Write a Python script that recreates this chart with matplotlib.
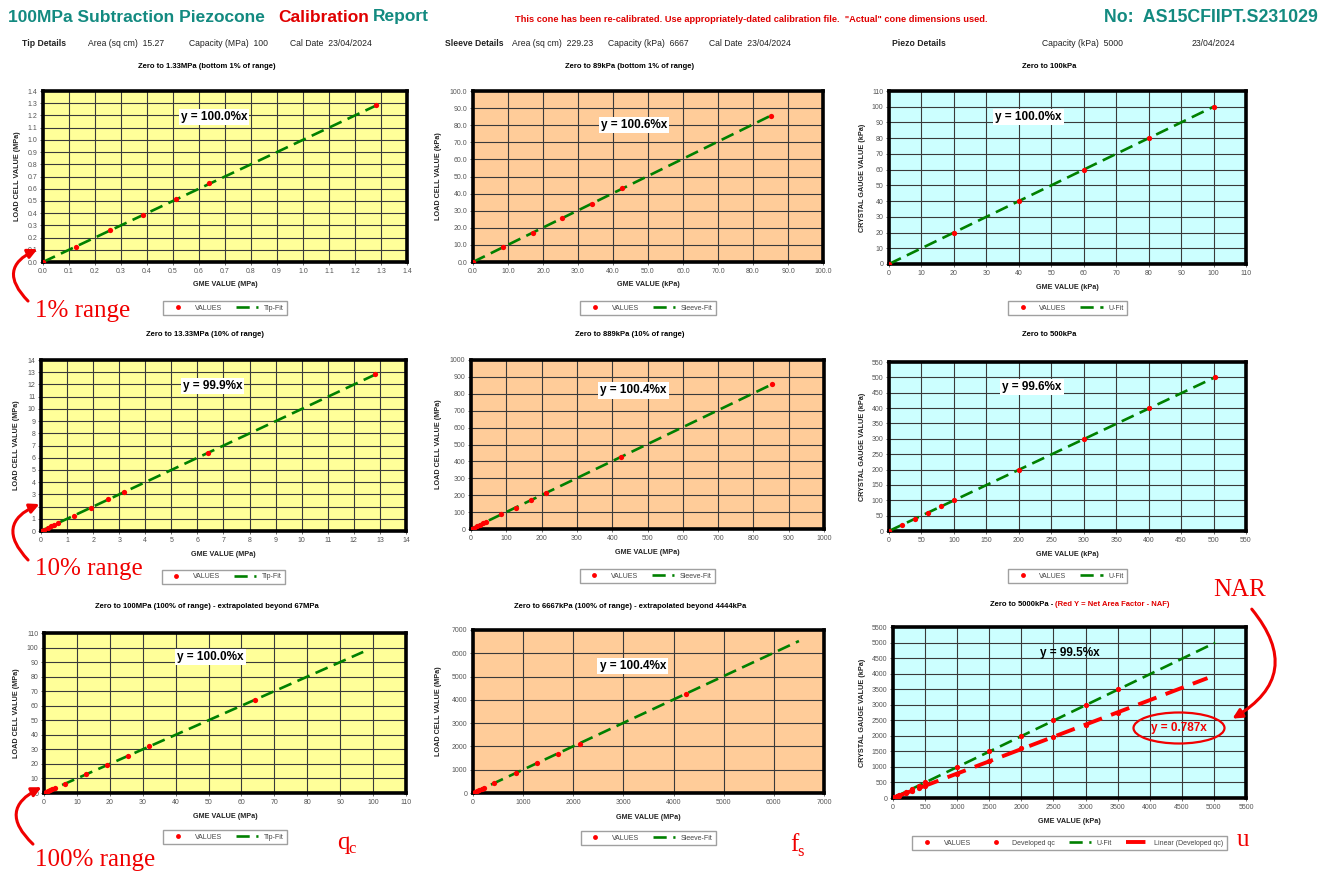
import numpy as np
import matplotlib
matplotlib.use("Agg")
import matplotlib.pyplot as plt
from matplotlib.patches import FancyArrowPatch, Ellipse
from matplotlib.lines import Line2D

plt.rcParams["font.family"] = ["Liberation Sans", "DejaVu Sans"]

W, H = 1327, 872

# ----------------------------
# Data
# ----------------------------
tip1_x = [0, 0.128, 0.256, 0.384, 0.512, 0.640, 1.280]
tip1_y = [0, 0.125, 0.262, 0.385, 0.512, 0.645, 1.282]

slv1_x = [0, 8.5, 17.0, 25.5, 34.0, 42.5, 85.0]
slv1_y = [0, 8.5, 16.9, 25.6, 33.9, 43.0, 85.5]

pz1_x = [0, 20, 40, 60, 80, 100]
pz1_y = [0, 20, 40, 60, 80, 100]

tip10_x = [0, 0.13, 0.26, 0.38, 0.51, 0.64, 1.28, 1.92, 2.56, 3.20, 6.40, 12.80]
tip10_y = [0, 0.12, 0.25, 0.38, 0.50, 0.63, 1.25, 1.88, 2.58, 3.22, 6.42, 12.82]

slv10_x = [0, 8.5, 17, 25.5, 34, 42.5, 85, 128, 170, 213, 425, 853]
slv10_y = [0, 8.6, 17, 25.6, 34, 42.8, 86, 127, 171, 212, 427, 856]

pz5_x = [0, 20, 40, 60, 80, 100, 200, 300, 400, 502]
pz5_y = [0, 20, 40, 60, 80, 100, 200, 300, 400, 500]

tip100_x = [0, 0.64, 1.28, 1.92, 2.56, 3.2, 6.4, 12.8, 19.2, 25.6, 32.0, 64.0]
tip100_y = [0, 0.6, 1.25, 1.9, 2.55, 3.2, 6.4, 12.8, 19.2, 25.6, 32.0, 64.2]

slv100_x = [0, 42.5, 85, 128, 170, 213, 425, 853, 1280, 1700, 2130, 4250]
slv100_y = [0, 43, 86, 128, 171, 213, 427, 850, 1275, 1690, 2120, 4250]

pz50_x = [0, 20, 40, 60, 80, 100, 200, 300, 400, 500, 1000, 1500, 2000, 2500, 3000, 3500]
pz50_y = [0, 20, 40, 60, 80, 100, 200, 300, 400, 500, 1000, 1500, 2000, 2500, 3000, 3500]
pz50_dev = [0, 16, 31, 47, 63, 79, 160, 230, 310, 390, 770, 1190, 1610, 1950, 2340, 2730]

fit_slopes = [1.000, 1.006, 1.000, 0.999, 1.004, 0.996, 1.000, 1.004, 0.995]
fit_xmax = [1.28, 85, 100, 12.8, 853, 502, 97, 6500, 5020]
eq_labels = ["y = 100.0%x", "y = 100.6%x", "y = 100.0%x",
             "y = 99.9%x", "y = 100.4%x", "y = 99.6%x",
             "y = 100.0%x", "y = 100.4%x", "y = 99.5%x"]
naf_slope = 0.787
naf_xmax = 4900

axis_max = [1.4, 100, 110, 14, 1000, 550, 110, 7000, 5500]
axis_step = [0.1, 10, 10, 1, 100, 50, 10, 1000, 500]
tick_fmt = ["%.1f", "%.1f", "%d", "%d", "%d", "%d", "%d", "%d", "%d"]

titles = ["Zero to 1.33MPa (bottom 1% of range)",
          "Zero to 89kPa (bottom 1% of range)",
          "Zero to 100kPa",
          "Zero to 13.33MPa (10% of range)",
          "Zero to 889kPa (10% of range)",
          "Zero to 500kPa",
          "Zero to 100MPa (100% of range) - extrapolated beyond 67MPa",
          "Zero to 6667kPa (100% of range) - extrapolated beyond 4444kPa",
          None]
xlabels = ["GME VALUE (MPa)", "GME VALUE (kPa)", "GME VALUE (kPa)",
           "GME VALUE (MPa)", "GME VALUE (MPa)", "GME VALUE (kPa)",
           "GME VALUE (MPa)", "GME VALUE (MPa)", "GME VALUE (kPa)"]
ylabels = ["LOAD CELL VALUE (MPa)", "LOAD CELL VALUE (kPa)", "CRYSTAL GAUGE VALUE (kPa)",
           "LOAD CELL VALUE (MPa)", "LOAD CELL VALUE (MPa)", "CRYSTAL GAUGE VALUE (kPa)",
           "LOAD CELL VALUE (MPa)", "LOAD CELL VALUE (MPa)", "CRYSTAL GAUGE VALUE (kPa)"]
fit_names = ["Tip-Fit", "Sleeve-Fit", "U-Fit"] * 3

data_x = [tip1_x, slv1_x, pz1_x, tip10_x, slv10_x, pz5_x, tip100_x, slv100_x, pz50_x]
data_y = [tip1_y, slv1_y, pz1_y, tip10_y, slv10_y, pz5_y, tip100_y, slv100_y, pz50_y]

# ----------------------------
# Layout (pixels)
# ----------------------------
boxes = [(43, 91, 407, 262), (473, 91, 823, 262), (889, 91, 1246, 264),
         (41, 360, 406, 531), (471, 360, 824, 529), (889, 362, 1246, 531),
         (44, 633, 406, 793), (473, 630, 824, 793), (893, 627, 1246, 798)]
title_y = [66, 66, 66, 334, 334, 334, 607, 607, 604]
xlabel_y = [285, 285, 287, 554, 553, 554, 816, 817, 821]
legend_y = [308, 308, 308, 577, 576, 576, 837, 838, 843]
ylabel_x = [18, 438, 863, 17, 438, 863, 17, 438, 863]
eq_pos = [(0.47, 0.85), (0.46, 0.80), (0.39, 0.85),
          (0.47, 0.85), (0.46, 0.82), (0.40, 0.85),
          (0.46, 0.85), (0.455, 0.78), (0.50, 0.85)]
faces = ["#FFFF99", "#FFCC99", "#CCFFFF"] * 3

GREEN = "#008000"
RED = "#FF0000"
TEAL = "#138A80"
ANNO = "#F00000"


def fx(x):
    return x / W


def fy(y):
    return 1 - y / H


fig = plt.figure(figsize=(W / 100, H / 100), dpi=100)

# ----------------------------
# Header
# ----------------------------
fig.text(fx(8), fy(17), "100MPa Subtraction Piezocone", color=TEAL, fontsize=12.5,
         fontweight="bold", va="center")
fig.text(fx(278), fy(17), "Calibration", color="#E00000", fontsize=12.5,
         fontweight="bold", va="center")
fig.text(fx(373), fy(17), "Report", color=TEAL, fontsize=12.5,
         fontweight="bold", va="center")
fig.text(fx(515), fy(19),
         'This cone has been re-calibrated. Use appropriately-dated calibration file.  '
         '"Actual" cone dimensions used.',
         color="#E00000", fontsize=6.7, fontweight="bold", va="center")
fig.text(fx(1318), fy(17), "No:  AS15CFIIPT.S231029", color=TEAL, fontsize=12.8,
         fontweight="bold", va="center", ha="right")

hdr = [(22, "Tip Details", True), (88, "Area (sq cm)  15.27", False),
       (189, "Capacity (MPa)  100", False), (290, "Cal Date  23/04/2024", False),
       (445, "Sleeve Details", True), (512, "Area (sq cm)  229.23", False),
       (608, "Capacity (kPa)  6667", False), (709, "Cal Date  23/04/2024", False),
       (892, "Piezo Details", True), (1042, "Capacity (kPa)  5000", False),
       (1192, "23/04/2024", False)]
for x, s, b in hdr:
    fig.text(fx(x), fy(44), s, fontsize=6.2, fontweight="bold" if b else "normal",
             va="center", color="#222222")

# ----------------------------
# Panels
# ----------------------------
for i in range(9):
    l, t, r, b = boxes[i]
    ax = fig.add_axes([fx(l), fy(b), (r - l) / W, (b - t) / H])
    ax.set_facecolor(faces[i])
    m = axis_max[i]
    st = axis_step[i]
    ax.set_xlim(0, m)
    ax.set_ylim(0, m)
    ticks = np.arange(0, m + st / 2, st)
    ax.set_xticks(ticks)
    ax.set_yticks(ticks)
    ax.set_xticklabels([tick_fmt[i] % v for v in ticks])
    ax.set_yticklabels([tick_fmt[i] % v for v in ticks])
    ax.tick_params(labelsize=5, colors="#555555", length=2, width=0.6, pad=2)
    ax.grid(True, color="#3a3a3a", lw=0.8)
    ax.set_axisbelow(True)
    for sp in ax.spines.values():
        sp.set_linewidth(2.6)
        sp.set_color("black")

    # fit line
    fit_x = np.array([0, fit_xmax[i]])
    ax.plot(fit_x, fit_slopes[i] * fit_x, color=GREEN, lw=1.9, dashes=(5, 2.5),
            zorder=3)
    if i == 8:
        naf_x = np.array([0, naf_xmax])
        ax.plot(naf_x, naf_slope * naf_x, color=RED, lw=2.8, dashes=(5, 2.5), zorder=3)
        ax.plot(pz50_x, pz50_dev, "o", color=RED, ms=3.8, mec="none", zorder=4)
    ax.plot(data_x[i], data_y[i], "o", color=RED, ms=3.8, mec="none", zorder=4)

    ex, ey = eq_pos[i]
    bbox = None if i == 8 else dict(facecolor="white", edgecolor="none", pad=1.5)
    ax.text(ex, ey, eq_labels[i], transform=ax.transAxes, fontsize=8.5,
            fontweight="bold", ha="center", va="center", bbox=bbox, zorder=5)

    cx = (l + r) / 2
    if titles[i] is not None:
        fig.text(fx(cx - 18), fy(title_y[i]), titles[i], fontsize=5.5,
                 fontweight="bold", ha="center", va="center")
    fig.text(fx(cx), fy(xlabel_y[i]), xlabels[i], fontsize=5.2, fontweight="bold",
             ha="center", va="center", color="#222222")
    fig.text(fx(ylabel_x[i]), fy((t + b) / 2), ylabels[i], fontsize=5.2,
             fontweight="bold", ha="center", va="center", rotation=90, color="#222222")

    handles = [Line2D([], [], ls="none", marker="o", color=RED, ms=3.5, mec="none"),
               Line2D([], [], color=GREEN, lw=1.9, dashes=(5, 2.5))]
    names = ["VALUES", fit_names[i]]
    if i == 8:
        handles = [handles[0],
                   Line2D([], [], ls="none", marker="o", color=RED, ms=3.5, mec="none"),
                   handles[1],
                   Line2D([], [], color=RED, lw=2.8, dashes=(5, 2.5))]
        names = ["VALUES", "Developed qc", "U-Fit", "Linear (Developed qc)"]
    leg = fig.legend(handles, names, loc="center", ncol=len(names),
                     bbox_to_anchor=(fx(cx), fy(legend_y[i])),
                     bbox_transform=fig.transFigure, fontsize=5, frameon=True,
                     fancybox=False, edgecolor="#888888", handlelength=3.2,
                     columnspacing=2.0, borderpad=0.5)
    for txt in leg.get_texts():
        txt.set_color("#444444")

# title of the last panel in two colours
fig.text(fx(1055), fy(604), "Zero to 5000kPa - ", fontsize=5.5, fontweight="bold",
         ha="right", va="center")
fig.text(fx(1055), fy(604), "(Red Y = Net Area Factor - NAF)", fontsize=5.5,
         fontweight="bold", ha="left", va="center", color="#E00000")

# ----------------------------
# Red hand annotations
# ----------------------------
SERIF = ["Liberation Serif", "DejaVu Serif"]


def red_arrow(p0, p1, rad):
    arr = FancyArrowPatch((fx(p0[0]), fy(p0[1])), (fx(p1[0]), fy(p1[1])),
                          transform=fig.transFigure,
                          connectionstyle="arc3,rad=%s" % rad,
                          arrowstyle="-|>", mutation_scale=14, lw=2.2, color=ANNO)
    fig.add_artist(arr)


fig.text(fx(35), fy(311), "1% range", family=SERIF, fontsize=18, color=ANNO,
         va="center")
red_arrow((30, 303), (40, 248), -0.75)
fig.text(fx(35), fy(569), "10% range", family=SERIF, fontsize=18, color=ANNO,
         va="center")
red_arrow((30, 562), (42, 503), -0.75)
fig.text(fx(35), fy(860), "100% range", family=SERIF, fontsize=18, color=ANNO,
         va="center")
red_arrow((35, 846), (44, 786), -0.75)

fig.text(fx(1213), fy(590), "NAR", family=SERIF, fontsize=18, color=ANNO,
         va="center")
red_arrow((1250, 607), (1230, 720), -0.6)

ell = Ellipse((fx(1179), fy(728)), 91 / W, 31 / H, transform=fig.transFigure,
              facecolor="none", edgecolor=ANNO, lw=1.6)
fig.add_artist(ell)
fig.text(fx(1179), fy(728), "y = 0.787x", fontsize=8.5, fontweight="bold",
         color=ANNO, ha="center", va="center")

fig.text(fx(337), fy(843), "q", family=SERIF, fontsize=18, color=ANNO, va="center")
fig.text(fx(348), fy(849), "c", family=SERIF, fontsize=12, color=ANNO, va="center")
fig.text(fx(790), fy(845), "f", family=SERIF, fontsize=18, color=ANNO, va="center")
fig.text(fx(797), fy(852), "s", family=SERIF, fontsize=12, color=ANNO, va="center")
fig.text(fx(1237), fy(840), "u", family=SERIF, fontsize=18, color=ANNO, va="center")

fig.savefig("out.png", dpi=100)
